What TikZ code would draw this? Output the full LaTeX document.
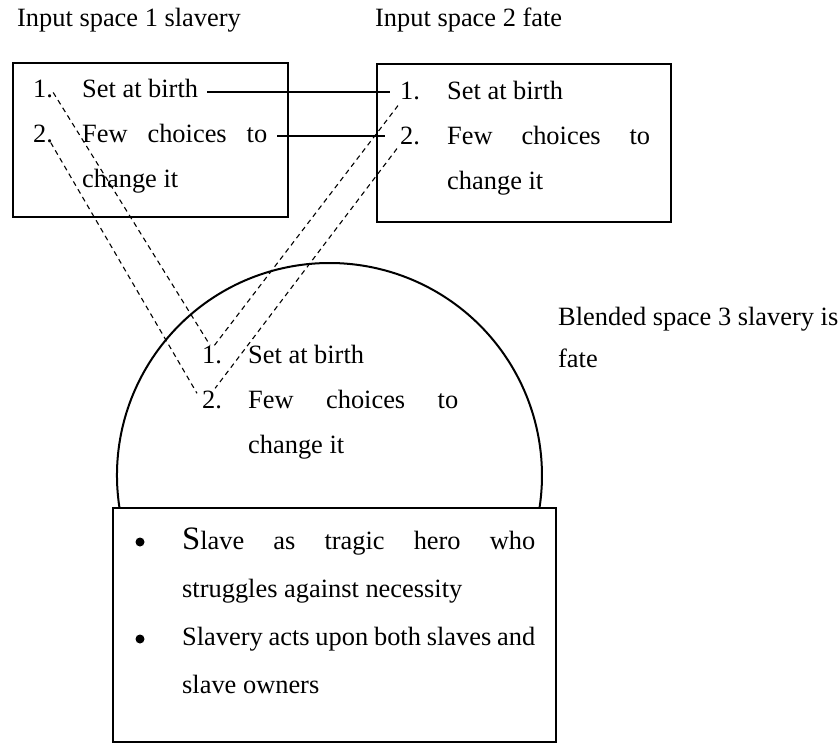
\documentclass[tikz,border=0pt]{standalone}
\usepackage{fontspec}
\setmainfont{Liberation Serif}
\usepackage{tikz}
\newcommand{\bodyfont}{\fontsize{26.4}{45}\selectfont}
\newcommand{\bigS}{{\fontsize{32.7}{45}\selectfont S}}

\begin{document}
\begin{tikzpicture}[x=1pt, y=-1pt,
    spacebox/.style={draw, line width=2.4pt, inner sep=0pt},
    txt/.style={anchor=base west, inner sep=0pt, font=\bodyfont},
    maplink/.style={line width=1.1pt},
    blendlink/.style={line width=1.1pt, dash pattern=on 5pt off 4pt},
    bulletdot/.style={circle, fill, inner sep=0pt, minimum size=9pt}]

\useasboundingbox (0,0) rectangle (840,743);

% ---- headings ----
\node[txt] (head1) at (17,27) {Input space 1 slavery};
\node[txt] (head2) at (375,27) {Input space 2 fate};

% ---- input space 1 ----
\node[spacebox, minimum width=275pt, minimum height=154pt] (box1) at (150.5,140) {};
\node[txt] (s1one) at (33,98) {1.};
\node[txt] (s1set) at (82,98) {Set at birth};
\node[txt] (s1two) at (33,143) {2.};
\node[txt] (s1few) at (82,143) {\makebox[185pt][s]{Few choices to}};
\node[txt] (s1chg) at (82,188) {change it};

% ---- input space 2 ----
\node[spacebox, minimum width=294pt, minimum height=158pt] (box2) at (524,143) {};
\node[txt] (s2one) at (400,100) {1.};
\node[txt] (s2set) at (447,100) {Set at birth};
\node[txt] (s2two) at (400,145) {2.};
\node[txt] (s2few) at (447,145) {\makebox[203pt][s]{Few choices to}};
\node[txt] (s2chg) at (447,190) {change it};

% ---- blended space ----
\coordinate (arcstart) at (119.5,508);
\draw[line width=2pt] (arcstart) arc[start angle=171.2, end angle=368.8, radius=212.5];
\node[txt] (blone) at (202,363) {1.};
\node[txt] (blset) at (248,363) {Set at birth};
\node[txt] (bltwo) at (202,408) {2.};
\node[txt] (blfew) at (248,408) {\makebox[210pt][s]{Few choices to}};
\node[txt] (blchg) at (248,453) {change it};

\node[txt] (bllab) at (558,325) {Blended space 3 slavery is};
\node[txt] (bllab2) at (558,367) {fate};

% ---- emergent structure ----
\node[spacebox, minimum width=443pt, minimum height=234pt] (box3) at (334.5,625) {};
\node[bulletdot] (bul1) at (140,542) {};
\node[txt] (em1) at (182,549) {\makebox[353pt][s]{\bigS lave as tragic hero who}};
\node[txt] (em2) at (182,597) {struggles against necessity};
\node[bulletdot] (bul2) at (140,639) {};
\node[txt] (em3) at (182,645) {\makebox[353pt][s]{Slavery acts upon both slaves and}};
\node[txt] (em4) at (182,693) {slave owners};

% ---- cross-space mappings ----
\coordinate (map1a) at ([xshift=9pt,yshift=-3pt]s1set.east);
\coordinate (map1b) at ([xshift=-10pt]s2one.west);
\coordinate (map2a) at ([xshift=10pt,yshift=-2pt]s1few.east);
\coordinate (map2b) at ([xshift=-15pt]s2two.west);
\draw[maplink] (map1a) -- (map1a -| map1b);
\draw[maplink] (map2a) -- (map2a -| map2b);

% ---- projections into the blend ----
\draw[blendlink] ([yshift=-3pt]s1one.east) -- ([xshift=-2pt]blone.north);
\draw[blendlink] ([shift={(-2.5pt,1pt)}]s1two.south east) -- ([xshift=-5pt,yshift=-3pt]bltwo.north west);
\draw[blendlink] ([xshift=-2pt,yshift=-5pt]s2one.south west) -- ([yshift=-3pt]blone.north);
\draw[blendlink] ([xshift=-3pt,yshift=-3pt]s2two.south west) -- ([xshift=3pt,yshift=2pt]bltwo.north);

\end{tikzpicture}
\end{document}
